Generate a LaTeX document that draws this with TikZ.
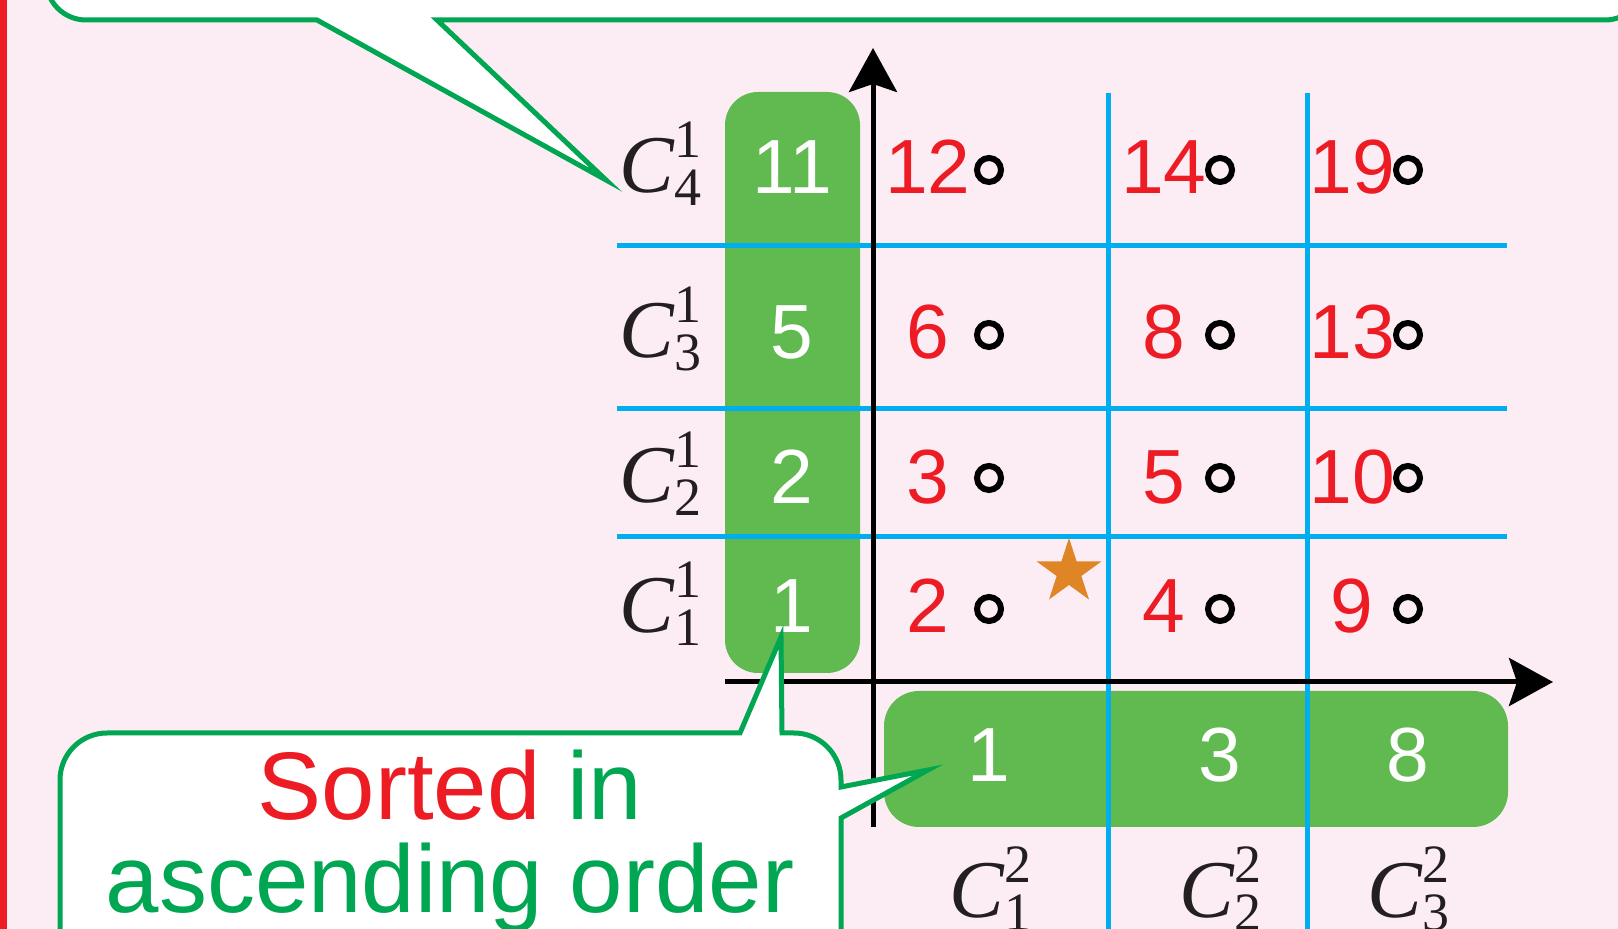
\documentclass[tikz,border=0pt]{standalone}
\usepackage{amsmath}
\usepackage{fontspec}
\setmainfont{Liberation Serif}
\newfontfamily\arial{Liberation Sans}
\usetikzlibrary{arrows.meta,shapes.geometric}
\DeclareMathSizes{41}{41}{27}{20}
\definecolor{pinkbg}{RGB}{252,237,244}
\definecolor{redc}{RGB}{237,28,36}
\definecolor{gline}{RGB}{0,166,81}
\definecolor{gfill}{RGB}{97,186,80}
\definecolor{bluec}{RGB}{0,174,239}
\definecolor{orangec}{RGB}{224,133,38}
\definecolor{labc}{RGB}{35,31,32}
\tikzset{
  num/.style={font=\arial\fontsize{38.4}{40}\selectfont, text=redc, inner sep=0pt},
  wnum/.style={num, text=white},
  dot/.style={circle, draw=black, line width=3pt, minimum size=12pt, inner sep=0pt},
  lab/.style={font=\fontsize{41}{41}\selectfont, text=labc, inner sep=0pt, anchor=base},
  gbox/.style={fill=gfill, rounded corners=16.5pt, inner sep=0pt},
  gridline/.style={draw=bluec, line width=2.5pt},
  axis/.style={draw=black, line width=2.5pt, -{Stealth[length=22pt,width=24pt,inset=4pt]}},
  callout/.style={fill=white, draw=gline, line width=2.5pt, line join=miter, miter limit=25},
  ctext/.style={font=\arial\fontsize{48}{48}\selectfont, inner sep=0pt, anchor=base},
}
\begin{document}
\begin{tikzpicture}[x=0.5pt,y=-0.5pt]
\useasboundingbox (0,0) rectangle (1618,929);
\clip (0,0) rectangle (1618,929);
\fill[pinkbg] (0,0) rectangle (1618,929);
\fill[redc] (0,0) rectangle (7,929);

% top callout
\draw[callout] (46,-100) -- (46,-20) arc[start angle=180, end angle=90, radius=40]
  -- (317,20) -- (606,180) -- (437,20) -- (1605,20)
  arc[start angle=90, end angle=0, radius=40] -- (1645,-100) -- cycle;

% green boxes
\node[gbox, minimum width=67.5pt, minimum height=290.5pt] (vbox) at (792.5,382.5) {};
\node[gbox, minimum width=312pt, minimum height=68pt, rounded corners=17.5pt] (hbox) at (1196,759) {};

% blue grid
\coordinate (h1a) at (617,246); \coordinate (h1b) at (1507,246);
\coordinate (h2a) at (617,409); \coordinate (h2b) at (1507,409);
\coordinate (h3a) at (617,537); \coordinate (h3b) at (1507,537);
\coordinate (v1a) at (1108.5,93); \coordinate (v1b) at (1108.5,940);
\coordinate (v2a) at (1307.5,93); \coordinate (v2b) at (1307.5,940);
\draw[gridline] (h1a) -- (h1b);
\draw[gridline] (h2a) -- (h2b);
\draw[gridline] (h3a) -- (h3b);
\draw[gridline] (v1a) -- (v1b);
\draw[gridline] (v2a) -- (v2b);

% axes
\coordinate (yb) at (873,827); \coordinate (yt) at (873,48);
\coordinate (xl) at (725,682); \coordinate (xr) at (1553,682);
\draw[axis] (yb) -- (yt);
\draw[axis] (xl) -- (xr);

% left box numbers
\node[wnum] (l4) at (792,167) {11};
\node[wnum] (l3) at (792,332) {5};
\node[wnum] (l2) at (792,477) {2};
\node[wnum] (l1) at (792,606) {1};
% bottom box numbers
\node[wnum] (b1) at (989,755) {1};
\node[wnum] (b2) at (1220,755) {3};
\node[wnum] (b3) at (1408,755) {8};

% grid values
\node[num] (n41) at (928,167) {12};
\node[num] (n42) at (1164,167) {14};
\node[num] (n43) at (1352,167) {19};
\node[num] (n31) at (928,332) {6};
\node[num] (n32) at (1164,332) {8};
\node[num] (n33) at (1352,332) {13};
\node[num] (n21) at (928,477) {3};
\node[num] (n22) at (1164,477) {5};
\node[num] (n23) at (1352,477) {10};
\node[num] (n11) at (928,606) {2};
\node[num] (n12) at (1164,606) {4};
\node[num] (n13) at (1352,606) {9};

% circles
\node[dot] (o41) at (989,170) {};
\node[dot] (o42) at (1220,170) {};
\node[dot] (o43) at (1408,170) {};
\node[dot] (o31) at (989,335) {};
\node[dot] (o32) at (1220,335) {};
\node[dot] (o33) at (1408,335) {};
\node[dot] (o21) at (989,478) {};
\node[dot] (o22) at (1220,478) {};
\node[dot] (o23) at (1408,478) {};
\node[dot] (o11) at (989,609) {};
\node[dot] (o12) at (1220,609) {};
\node[dot] (o13) at (1408,609) {};

% star
\node[star, star points=5, star point ratio=2.618, fill=orangec, inner sep=0pt, minimum size=34pt] (st) at (1069,572) {};

% labels
\node[lab] (c4) at (661,193) {$\text{\itshape C}^{\text{1}}_{\text{4}}$};
\node[lab] (c3) at (661,358) {$\text{\itshape C}^{\text{1}}_{\text{3}}$};
\node[lab] (c2) at (661,503) {$\text{\itshape C}^{\text{1}}_{\text{2}}$};
\node[lab] (c1) at (661,633) {$\text{\itshape C}^{\text{1}}_{\text{1}}$};
\node[lab] (d1) at (991,918) {$\text{\itshape C}^{\text{2}}_{\text{1}}$};
\node[lab] (d2) at (1221,918) {$\text{\itshape C}^{\text{2}}_{\text{2}}$};
\node[lab] (d3) at (1409,918) {$\text{\itshape C}^{\text{2}}_{\text{3}}$};

% bottom callout
\draw[callout] (60,1000) -- (60,780) arc[start angle=180, end angle=270, radius=47]
  -- (740,733) -- (781,637) -- (782,733) -- (794,733)
  arc[start angle=270, end angle=360, radius=47]
  -- (841,787) -- (928,770) -- (841,818) -- (841,1000) -- cycle;
\node[ctext] (t1) at (450,820) {\textcolor{redc}{Sorted} \textcolor{gline}{in}};
\node[ctext, text=gline] (t2) at (450,913) {ascending order};
\end{tikzpicture}
\end{document}
